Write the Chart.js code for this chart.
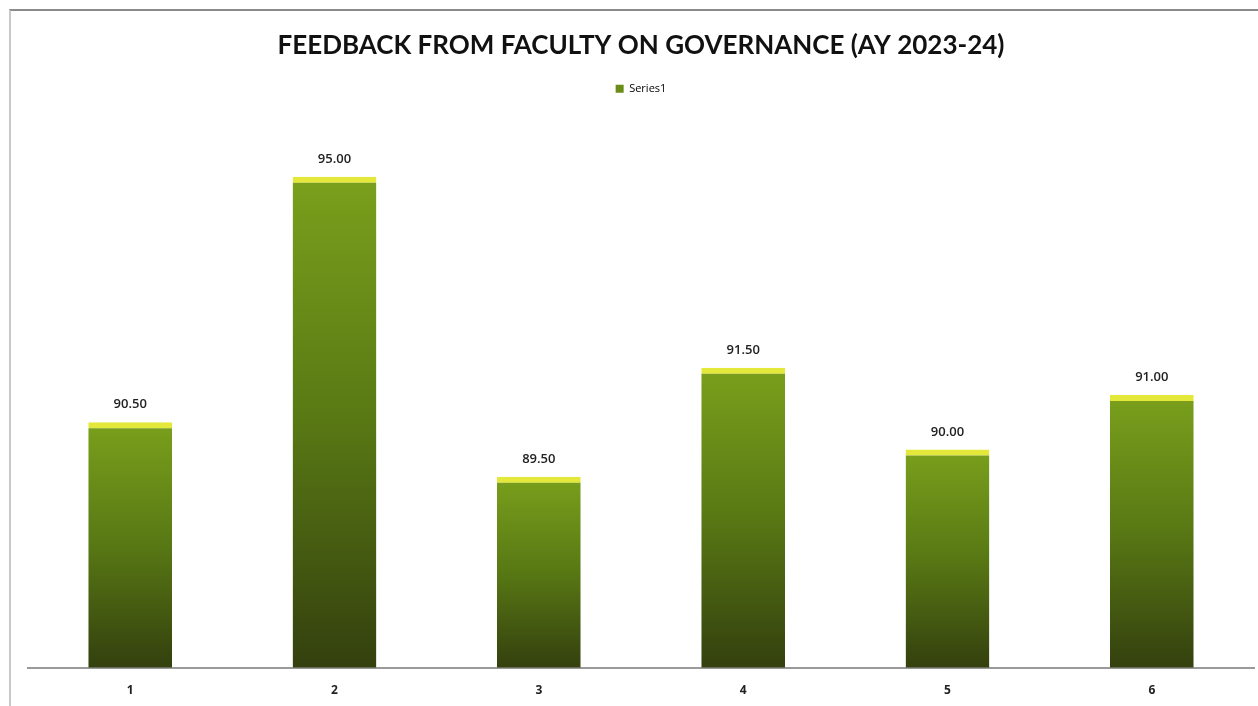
<!DOCTYPE html>
<html>
<head>
<meta charset="utf-8">
<script src="https://cdn.jsdelivr.net/npm/chart.js@4.4.1/dist/chart.umd.min.js"></script>
<style>
  html, body { margin: 0; padding: 0; background: #fff; }
  #wrap { width: 1258px; height: 706px; position: relative; }
  #frame {
    position: absolute; left: 9px; top: 9px; right: 0; bottom: 0;
    border-top: 2px solid #8a8a8a; border-left: 2px solid #c8c8c8;
    pointer-events: none;
  }
</style>
</head>
<body>
<div id="wrap"><canvas id="chart"></canvas><div id="frame"></div></div>
<script>
/* ── Data ─────────────────────────────────────────────── */
const categories = ['1', '2', '3', '4', '5', '6'];
const scores     = [90.5, 95.0, 89.5, 91.5, 90.0, 91.0];
const seriesName = 'Series1';
const chartTitle = 'FEEDBACK FROM FACULTY ON GOVERNANCE (AY 2023-24)';

/* ── Bar gradient: light green on top, dark olive at the base ── */
function barFill(ctx) {
  const chart = ctx.chart;
  if (!chart.chartArea || ctx.type !== 'data') return '#5f7d14';
  const y = chart.scales.y;
  const top = y.getPixelForValue(ctx.parsed.y);
  const base = y.getPixelForValue(y.min);
  const g = chart.ctx.createLinearGradient(0, top, 0, base);
  g.addColorStop(0, '#7aa01c');
  g.addColorStop(0.5, '#587814');
  g.addColorStop(1, '#34400e');
  return g;
}

/* ── Value labels above each bar ──────────────────────── */
const valueLabels = {
  id: 'valueLabels',
  afterDatasetsDraw(chart) {
    const c = chart.ctx;
    const meta = chart.getDatasetMeta(0);
    c.save();
    c.font = '600 13px "Open Sans", sans-serif';
    c.fillStyle = '#222';
    c.textAlign = 'center';
    c.textBaseline = 'bottom';
    meta.data.forEach((bar, i) => {
      c.fillText(scores[i].toFixed(2), bar.x, bar.y - 11);
    });
    c.restore();
  }
};

/* ── Empty gap between the legend and the plot area ───── */
const legendGap = {
  id: 'legendGap',
  start(chart) {
    Chart.layouts.addBox(chart, {
      position: 'top',
      weight: 0,
      fullSize: true,
      options: {},
      left: 0, top: 0, right: 0, bottom: 0, width: 0, height: 0,
      isHorizontal: () => true,
      getPadding: () => ({ top: 0, left: 0, right: 0, bottom: 0 }),
      update(maxWidth) { this.width = maxWidth; this.height = 18; },
      draw() {}
    });
  }
};

new Chart(document.getElementById('chart'), {
  type: 'bar',
  data: {
    labels: categories,
    datasets: [{
      label: seriesName,
      data: scores,
      backgroundColor: barFill,
      borderColor: '#e3e83a',
      borderWidth: { top: 6, left: 0, right: 0, bottom: 0 },
      borderSkipped: false,
      categoryPercentage: 1,
      barPercentage: 0.41
    }]
  },
  options: {
    responsive: true,
    maintainAspectRatio: false,
    animation: false,
    layout: { padding: { left: 28, right: 4, top: 22, bottom: 0 } },
    plugins: {
      title: {
        display: true,
        text: chartTitle,
        color: '#111',
        font: { family: 'Lato', size: 26, weight: 'bold' },
        padding: { top: 8, bottom: 0 }
      },
      legend: {
        display: true,
        labels: {
          color: '#333',
          font: { family: 'Open Sans', size: 11 },
          boxWidth: 8,
          boxHeight: 8,
          padding: 22,
          generateLabels: () => [{
            text: seriesName,
            fillStyle: '#6a8c18',
            strokeStyle: '#6a8c18',
            lineWidth: 0
          }]
        }
      },
      tooltip: { enabled: false }
    },
    scales: {
      x: {
        grid: { display: false },
        border: { display: true, color: '#9a9a9a', width: 2 },
        ticks: { color: '#222', font: { family: 'Open Sans', size: 12, weight: 'bold' }, padding: 8 }
      },
      y: {
        display: false,
        min: 86,
        max: 96
      }
    }
  },
  plugins: [valueLabels, legendGap]
});
</script>
</body>
</html>
